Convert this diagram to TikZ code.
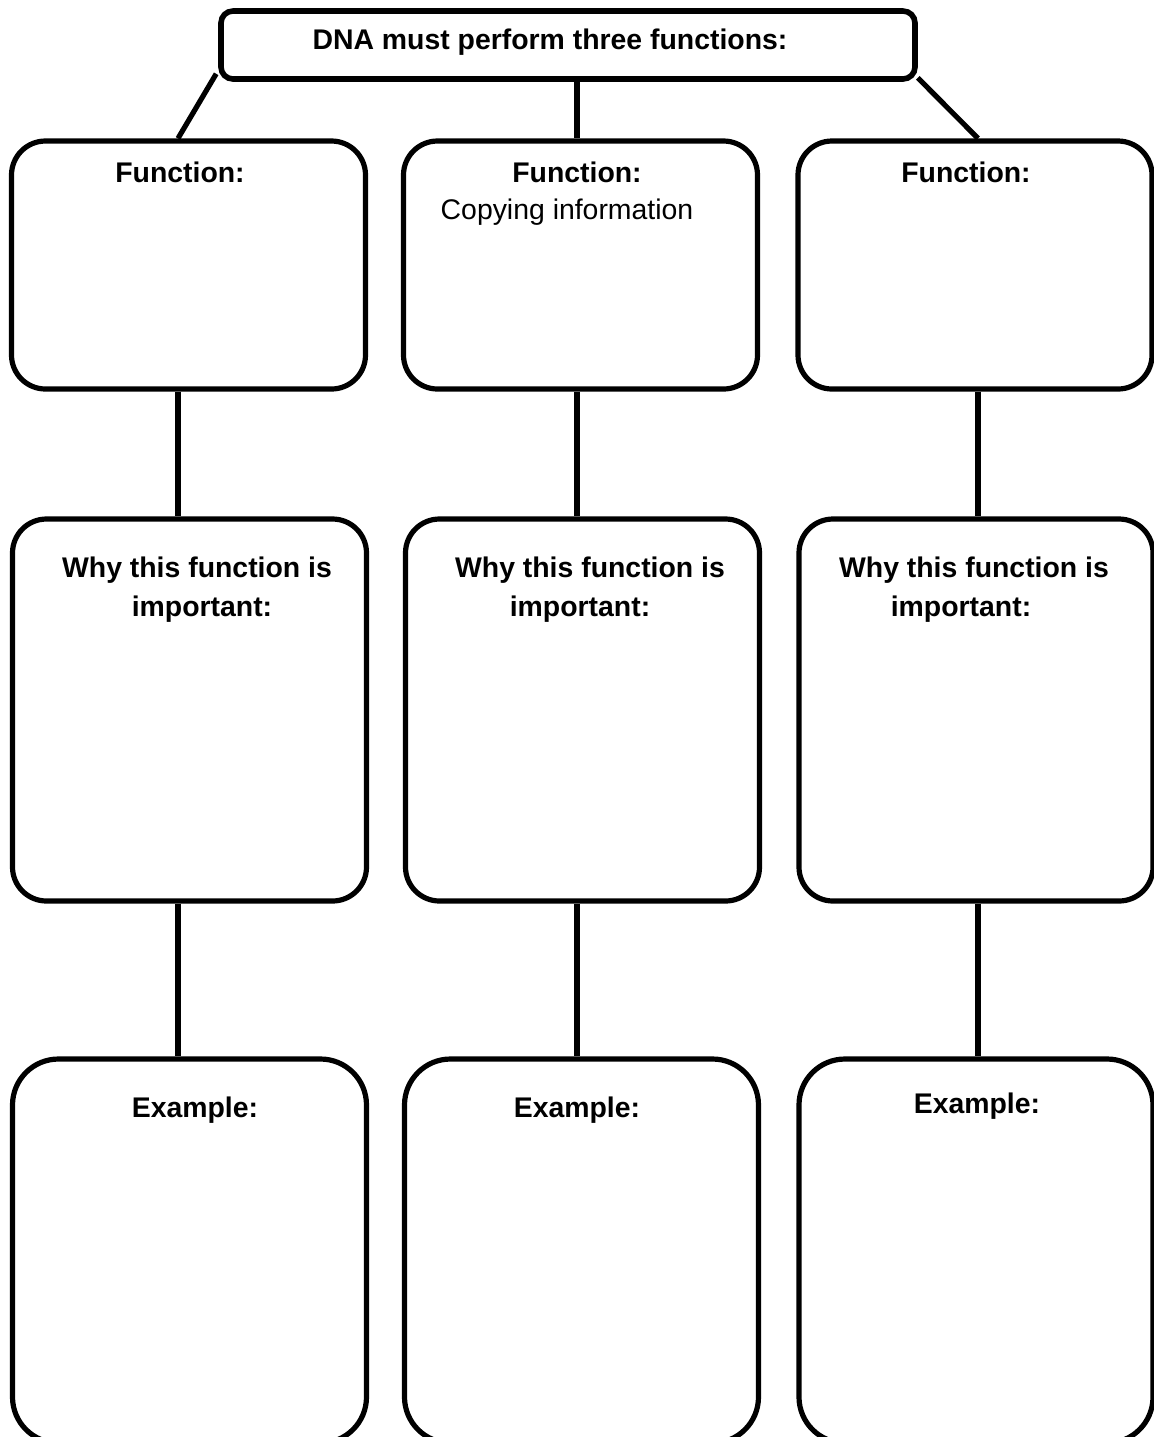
\documentclass[tikz,border=0pt]{standalone}
\usepackage{fontspec}
\setmainfont{Liberation Sans}
\usetikzlibrary{positioning,calc}
\definecolor{ink}{HTML}{000000}
\tikzset{box/.style={draw=ink,line width=2.6pt,rounded corners=17pt,fill=white,inner sep=0pt,minimum width=177pt},
topbox/.style={draw=ink,line width=2.8pt,rounded corners=6pt,inner sep=0pt,minimum width=347pt,minimum height=34pt},
link/.style={draw=ink,line width=2.6pt},
lbl/.style={font=\fontsize{14.2}{17}\selectfont\bfseries,text=ink,anchor=base,inner sep=0pt},
txt/.style={font=\fontsize{14.2}{17}\selectfont,text=ink,anchor=base,inner sep=0pt}}

\begin{document}
\begin{tikzpicture}[x=0.5pt,y=-0.5pt]
\useasboundingbox (0,0) rectangle (1154,1437);
\clip (0,0) rectangle (1154,1437);
% column lines
\coordinate (c1) at (178,0);
\coordinate (c2) at (577,0);
\coordinate (c3) at (978,0);
\node[topbox] (dna) at (568,45) {};
\node[lbl] (dnat) at (550,49) {DNA must perform three functions:};
% function boxes
\node[box,minimum height=124pt] (f1) at (188.5,265) {};
\node[box,minimum height=124pt] (f2) at (580.5,265) {};
\node[box,minimum height=124pt] (f3) at (975,265) {};
% why boxes
\node[box,minimum height=191pt] (w1) at (189.5,710) {};
\node[box,minimum height=191pt] (w2) at (582.5,710) {};
\node[box,minimum height=191pt] (w3) at (976,710) {};
% example boxes
\node[box,minimum height=192pt,rounded corners=23pt] (e1) at (189.5,1251) {};
\node[box,minimum height=192pt,rounded corners=23pt] (e2) at (581.5,1251) {};
\node[box,minimum height=192pt,rounded corners=23pt] (e3) at (976,1251) {};
% connectors
\draw[link] ($(dna.south west)+(-2,-8)$) -- (f1.north -| c1);
\draw[link] (dna.south -| c2) -- (f2.north -| c2);
\draw[link] ($(dna.south east)+(0,-4)$) -- (f3.north -| c3);
\foreach \i in {1,2,3}{
\draw[link] (f\i.south -| c\i) -- (w\i.north -| c\i);
\draw[link] (w\i.south -| c\i) -- (e\i.north -| c\i);}
% labels
\node[lbl] (f1t) at (180,182) {Function:};
\node[lbl] (f2t) at (577,182) {Function:};
\node[txt] (f2c) at (567,219) {Copying information};
\node[lbl] (f3t) at (966,182) {Function:};
\node[lbl] (w1a) at (197,577) {Why this function is};
\node[lbl] (w1b) at (202,616) {important:};
\node[lbl] (w2a) at (590,577) {Why this function is};
\node[lbl] (w2b) at (580,616) {important:};
\node[lbl] (w3a) at (974,577) {Why this function is};
\node[lbl] (w3b) at (961,616) {important:};
\node[lbl] (e1t) at (195,1117) {Example:};
\node[lbl] (e2t) at (577,1117) {Example:};
\node[lbl] (e3t) at (977,1113) {Example:};
\end{tikzpicture}
\end{document}
